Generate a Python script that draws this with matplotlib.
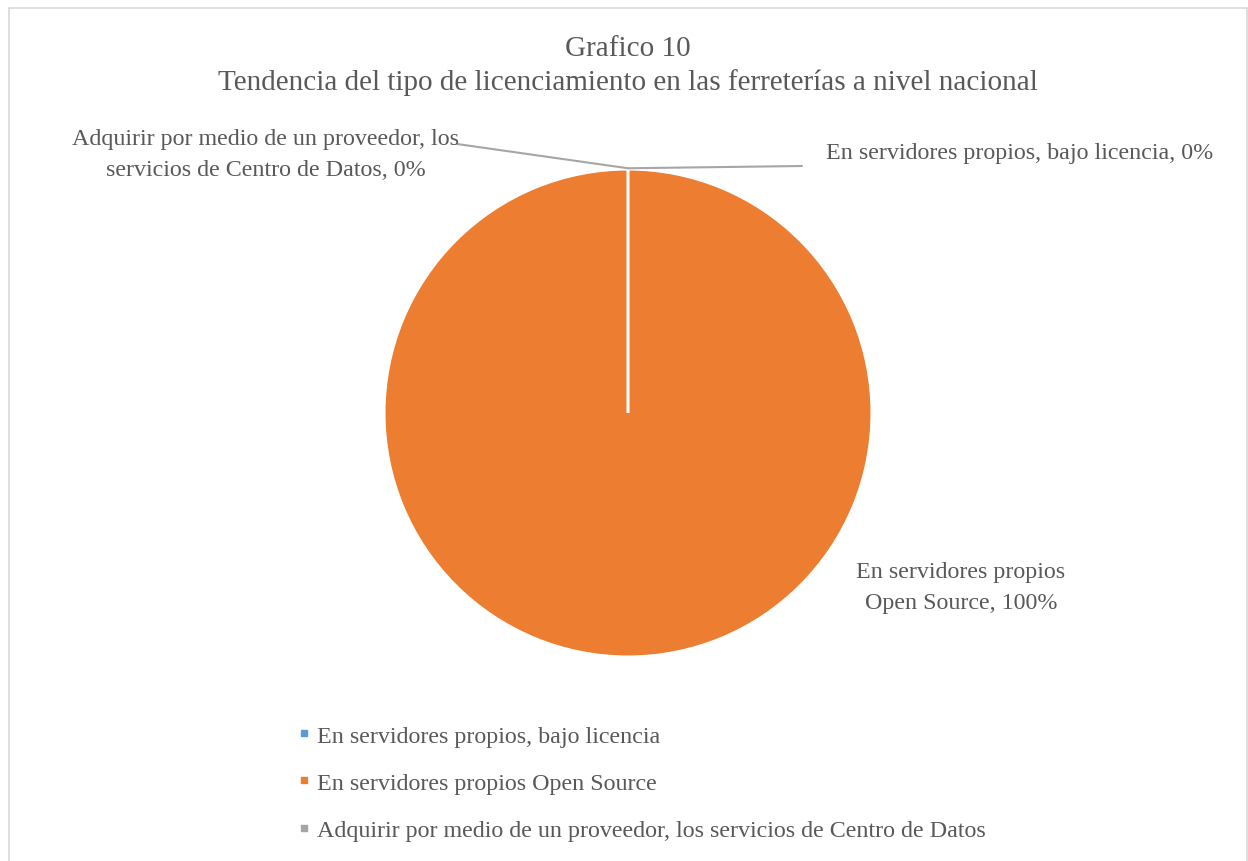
import matplotlib.pyplot as plt
from matplotlib.lines import Line2D
from matplotlib.patches import Rectangle

categories = [
    'En servidores propios, bajo licencia',
    'En servidores propios Open Source',
    'Adquirir por medio de un proveedor, los servicios de Centro de Datos',
]
percentages = [0, 100, 0]
colors = ['#5B9BD5', '#ED7D31', '#A5A5A5']
title_lines = ['Grafico 10',
               'Tendencia del tipo de licenciamiento en las ferreterías a nivel nacional']

TEXT_COLOR = '#595959'
LINE_COLOR = '#A6A6A6'
W, H = 1248, 862
LABEL_SIZE = 17.3

plt.rcParams['font.family'] = ['Liberation Serif', 'DejaVu Serif']

fig = plt.figure(figsize=(W / 100, H / 100), dpi=100)
fig.patch.set_facecolor('white')

# chart frame
fig.add_artist(Rectangle((9 / W, -0.01), (W - 10) / W, (H - 9) / H + 0.01,
                         transform=fig.transFigure, fill=False,
                         edgecolor='#D9D9D9', linewidth=1.2))

# pie axes: centre (628, 414) px, radius 244 px
cx, cy, r = 628, 414, 244
ax = fig.add_axes([(cx - r) / W, (H - cy - r) / H, 2 * r / W, 2 * r / H])
wedges, _ = ax.pie(percentages, colors=colors, startangle=90, counterclock=False,
                   wedgeprops=dict(edgecolor='white', linewidth=2.2))
ax.set_xlim(-1, 1)
ax.set_ylim(-1, 1)

fig.text(cx / W, 1 - 49 / H, title_lines[0], ha='center', va='center',
         fontsize=21, color=TEXT_COLOR)
fig.text(cx / W, 1 - 83 / H, title_lines[1], ha='center', va='center',
         fontsize=21, color=TEXT_COLOR)

# data labels
fig.text(266 / W, 1 - 155 / H, 'Adquirir por medio de un proveedor, los\nservicios de Centro de Datos, '
         f'{percentages[2]}%', ha='center', va='center', multialignment='center',
         fontsize=LABEL_SIZE, color=TEXT_COLOR, linespacing=1.58)
fig.text(826 / W, 1 - 153 / H, f'{categories[0]}, {percentages[0]}%', ha='left',
         va='center', fontsize=LABEL_SIZE, color=TEXT_COLOR)
fig.text(961 / W, 1 - 588 / H, f'En servidores propios\nOpen Source, {percentages[1]}%',
         ha='center', va='center', multialignment='center',
         fontsize=LABEL_SIZE, color=TEXT_COLOR, linespacing=1.58)

# leader lines from the top of the pie
for end in [(457, H - 145), (802, H - 167)]:
    ax.annotate('', xy=(0, 1.003), xycoords='data', xytext=end,
                textcoords='figure pixels', annotation_clip=False,
                arrowprops=dict(arrowstyle='-', color=LINE_COLOR, lw=1.5,
                                shrinkA=0, shrinkB=0))

handles = [Line2D([], [], marker='s', linestyle='none', markersize=5,
                  markerfacecolor=c, markeredgecolor=c) for c in colors]
leg = fig.legend(handles, categories, loc='upper left',
                 bbox_to_anchor=(286 / W, 1 - 714 / H), frameon=False,
                 fontsize=LABEL_SIZE, labelcolor=TEXT_COLOR, handlelength=0.5,
                 handletextpad=0.3, labelspacing=1.05, borderpad=0)

fig.savefig('out.png', dpi=100)
